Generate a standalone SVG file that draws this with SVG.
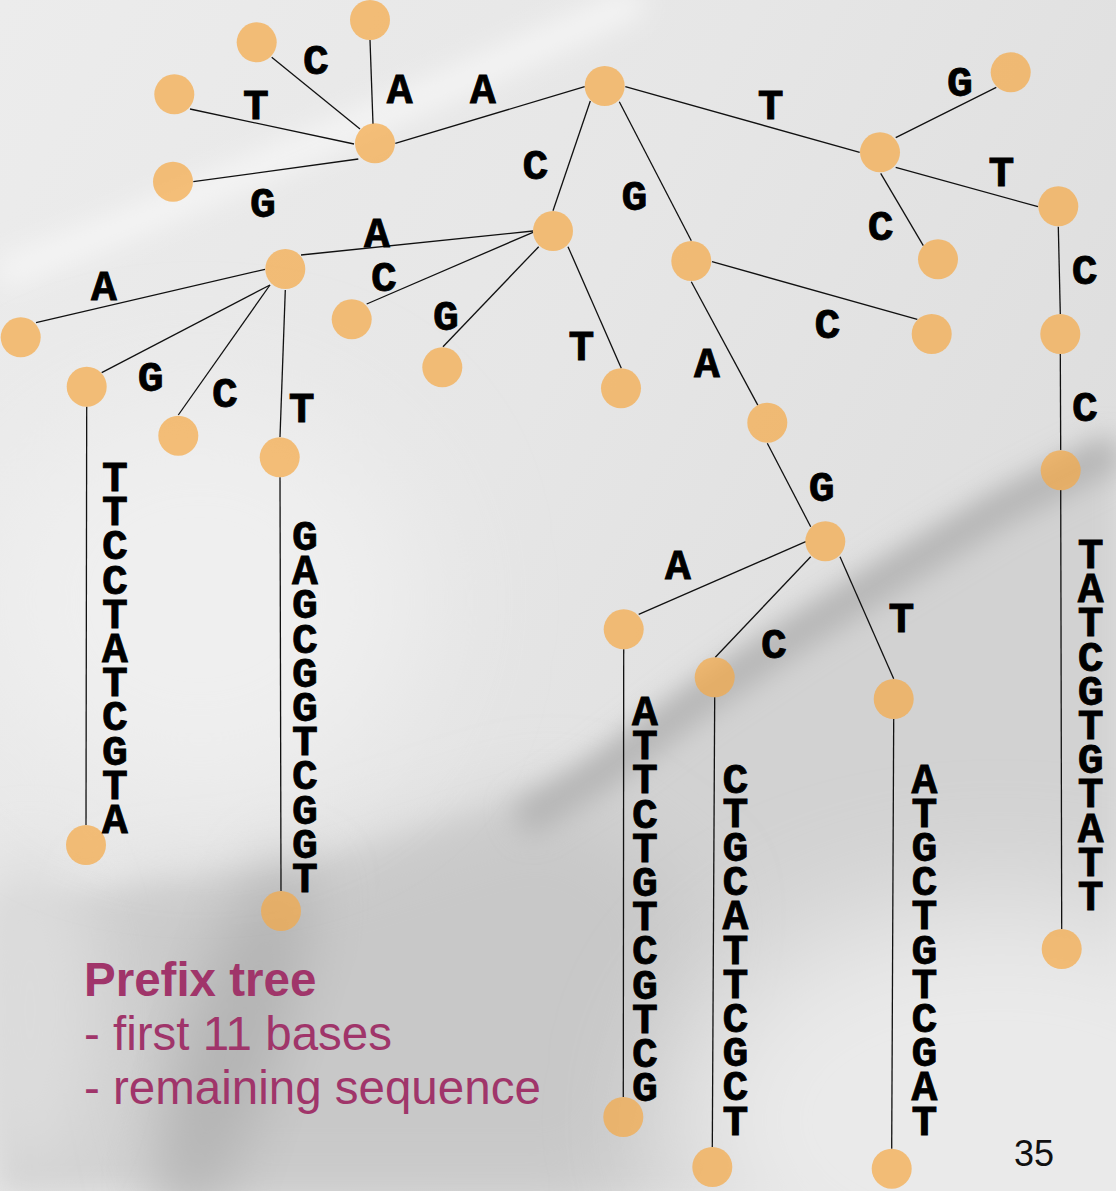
<svg xmlns="http://www.w3.org/2000/svg" width="1116" height="1191" viewBox="0 0 1116 1191">
  <defs>
    <linearGradient id="bgBase" x1="0" y1="0" x2="1" y2="0.6">
      <stop offset="0" stop-color="#ECECEC"/>
      <stop offset="0.5" stop-color="#E6E6E6"/>
      <stop offset="1" stop-color="#DCDCDC"/>
    </linearGradient>
    <filter id="blur60" x="-50%" y="-50%" width="200%" height="200%"><feGaussianBlur stdDeviation="60"/></filter>
    <filter id="blur40" x="-50%" y="-50%" width="200%" height="200%"><feGaussianBlur stdDeviation="40"/></filter>
    <filter id="blur30" x="-50%" y="-50%" width="200%" height="200%"><feGaussianBlur stdDeviation="30"/></filter>
    <filter id="blur14" x="-50%" y="-50%" width="200%" height="200%"><feGaussianBlur stdDeviation="14"/></filter>
    <style>
      .edge { stroke: #111111; stroke-width: 1.3; fill: none; }
      .node { fill: #F5A845; fill-opacity: 0.7; }
      .lbl { font-family: "Liberation Mono", "Courier New", monospace; font-weight: bold; font-size: 43px; fill: #000000; stroke: #000000; stroke-width: 0.8; text-anchor: middle; }
      .seq { font-family: "Liberation Mono", "Courier New", monospace; font-weight: bold; font-size: 43px; fill: #000000; stroke: #000000; stroke-width: 0.8; writing-mode: vertical-rl; text-orientation: upright; letter-spacing: -14.8px; }
      .cap { font-family: "Liberation Sans", Arial, sans-serif; font-size: 47.5px; fill: #A0356A; }
      .pg { font-family: "Liberation Sans", Arial, sans-serif; font-size: 36px; fill: #111111; }
    </style>
  </defs>

  <!-- slide background: soft grey with a diagonal fold -->
  <g id="background">
    <rect width="1116" height="1191" fill="url(#bgBase)"/>
    <polygon points="1116,440 900,560 700,690 560,790 300,870 0,900 0,1191 1116,1191" fill="#D2D2D2" filter="url(#blur14)"/>
    <polygon points="560,800 300,880 120,900 180,1191 620,1191 700,900" fill="#C8C8C8" filter="url(#blur40)"/>
    <ellipse cx="1000" cy="1120" rx="320" ry="220" fill="#EAEAEA" filter="url(#blur60)"/>
    <polyline points="1116,450 1000,508 900,569 800,631 700,698 600,773 520,822" stroke="#B4B4B4" stroke-width="34" fill="none" filter="url(#blur14)"/>
    <ellipse cx="235" cy="1040" rx="45" ry="190" fill="#B3B3B3" filter="url(#blur30)" transform="rotate(18 235 1040)"/>
    <ellipse cx="30" cy="1010" rx="60" ry="160" fill="#DCDCDC" filter="url(#blur30)"/>
    <polyline points="0,275 150,215 300,150 450,85 640,0" stroke="#F6F6F6" stroke-width="26" fill="none" filter="url(#blur14)"/>
    <ellipse cx="200" cy="600" rx="220" ry="200" fill="#EFEFEF" filter="url(#blur60)"/>
  </g>

  <!-- tree edges -->
  <g id="connectors">
    <line class="edge" x1="370" y1="40" x2="373" y2="124"/>
    <line class="edge" x1="271.7" y1="57.3" x2="360" y2="129"/>
    <line class="edge" x1="190" y1="109" x2="354" y2="144"/>
    <line class="edge" x1="193.3" y1="181.7" x2="358.3" y2="159"/>
    <line class="edge" x1="395.3" y1="143.3" x2="584.7" y2="86.7"/>
    <line class="edge" x1="625.3" y1="86.7" x2="859.7" y2="152.3"/>
    <line class="edge" x1="590.3" y1="101" x2="553" y2="210.7"/>
    <line class="edge" x1="619.3" y1="101.7" x2="691.3" y2="240.7"/>
    <line class="edge" x1="895.7" y1="137.7" x2="996.3" y2="87.3"/>
    <line class="edge" x1="895.7" y1="167.3" x2="1038" y2="206.7"/>
    <line class="edge" x1="880.7" y1="173.3" x2="923.3" y2="245.7"/>
    <line class="edge" x1="1058.3" y1="226.7" x2="1060.3" y2="314"/>
    <line class="edge" x1="1060.3" y1="354" x2="1060.7" y2="450"/>
    <line class="edge" x1="1060.7" y1="490" x2="1061.7" y2="929"/>
    <line class="edge" x1="301" y1="255" x2="533" y2="231"/>
    <line class="edge" x1="533" y1="232.3" x2="366.7" y2="304"/>
    <line class="edge" x1="538.7" y1="246.7" x2="443" y2="346.7"/>
    <line class="edge" x1="568" y1="246.7" x2="621.3" y2="368.3"/>
    <line class="edge" x1="265" y1="269.3" x2="36" y2="322.7"/>
    <line class="edge" x1="270" y1="285" x2="101.7" y2="372.7"/>
    <line class="edge" x1="270" y1="285" x2="178.3" y2="415"/>
    <line class="edge" x1="285.3" y1="290" x2="280" y2="437"/>
    <line class="edge" x1="86.7" y1="406.7" x2="86" y2="825"/>
    <line class="edge" x1="280" y1="477.3" x2="281" y2="891"/>
    <line class="edge" x1="712" y1="261.7" x2="917.3" y2="319.3"/>
    <line class="edge" x1="691.3" y1="281.7" x2="757.8" y2="405.1"/>
    <line class="edge" x1="767.3" y1="443.3" x2="810.7" y2="526.7"/>
    <line class="edge" x1="805.7" y1="541.7" x2="638.7" y2="614.3"/>
    <line class="edge" x1="810.7" y1="556.7" x2="715.3" y2="657.3"/>
    <line class="edge" x1="840" y1="556.7" x2="893.7" y2="678.7"/>
    <line class="edge" x1="623.7" y1="649.3" x2="623.3" y2="1097"/>
    <line class="edge" x1="714.7" y1="697.3" x2="712.3" y2="1147"/>
    <line class="edge" x1="893.7" y1="719" x2="891.7" y2="1148.7"/>
  </g>

  <!-- nodes -->
  <g id="n-root"><circle class="node" cx="604.7" cy="86" r="20"/></g>
  <g id="n-a"><circle class="node" cx="375" cy="143.3" r="20"/></g>
  <g id="n-aa"><circle class="node" cx="370" cy="20" r="20"/></g>
  <g id="n-ac"><circle class="node" cx="256.7" cy="42.3" r="20"/></g>
  <g id="n-at"><circle class="node" cx="174.3" cy="94.3" r="20"/></g>
  <g id="n-ag"><circle class="node" cx="173" cy="181.7" r="20"/></g>
  <g id="n-t"><circle class="node" cx="880" cy="152.3" r="20"/></g>
  <g id="n-tg"><circle class="node" cx="1010.7" cy="72.3" r="20"/></g>
  <g id="n-tc"><circle class="node" cx="938" cy="259.3" r="20"/></g>
  <g id="n-tt"><circle class="node" cx="1058.3" cy="206.3" r="20"/></g>
  <g id="n-ttc"><circle class="node" cx="1060.3" cy="334" r="20"/></g>
  <g id="n-ttcc"><circle class="node" cx="1060.7" cy="470.3" r="20"/></g>
  <g id="n-ttcc-end"><circle class="node" cx="1061.7" cy="949" r="20"/></g>
  <g id="n-c"><circle class="node" cx="553" cy="231" r="20"/></g>
  <g id="n-ca"><circle class="node" cx="285.3" cy="269" r="20"/></g>
  <g id="n-cc"><circle class="node" cx="351.7" cy="319.3" r="20"/></g>
  <g id="n-cg"><circle class="node" cx="442.3" cy="367.3" r="20"/></g>
  <g id="n-ct"><circle class="node" cx="621" cy="388.3" r="20"/></g>
  <g id="n-caa"><circle class="node" cx="20.7" cy="337.3" r="20"/></g>
  <g id="n-cag"><circle class="node" cx="86.7" cy="386.7" r="20"/></g>
  <g id="n-cac"><circle class="node" cx="178.3" cy="435.7" r="20"/></g>
  <g id="n-cat"><circle class="node" cx="279.7" cy="457.3" r="20"/></g>
  <g id="n-cag-end"><circle class="node" cx="86" cy="845" r="20"/></g>
  <g id="n-cat-end"><circle class="node" cx="281" cy="911" r="20"/></g>
  <g id="n-g"><circle class="node" cx="691.3" cy="261" r="20"/></g>
  <g id="n-gc"><circle class="node" cx="931.7" cy="334" r="20"/></g>
  <g id="n-ga"><circle class="node" cx="767.3" cy="422.7" r="20"/></g>
  <g id="n-gag"><circle class="node" cx="825.3" cy="541.3" r="20"/></g>
  <g id="n-gaga"><circle class="node" cx="623.7" cy="629.3" r="20"/></g>
  <g id="n-gagc"><circle class="node" cx="714.7" cy="677.3" r="20"/></g>
  <g id="n-gagt"><circle class="node" cx="893.7" cy="699" r="20"/></g>
  <g id="n-gaga-end"><circle class="node" cx="623.3" cy="1117" r="20"/></g>
  <g id="n-gagc-end"><circle class="node" cx="712.3" cy="1167" r="20"/></g>
  <g id="n-gagt-end"><circle class="node" cx="891.7" cy="1168.7" r="20"/></g>

  <!-- edge labels -->
  <g id="edge-labels">
    <text class="lbl" x="316" y="73.6">C</text>
    <text class="lbl" x="256" y="118.6">T</text>
    <text class="lbl" x="399.7" y="102.9">A</text>
    <text class="lbl" x="483" y="102.9">A</text>
    <text class="lbl" x="263" y="216.6">G</text>
    <text class="lbl" x="770.7" y="118.6">T</text>
    <text class="lbl" x="960" y="96.3">G</text>
    <text class="lbl" x="1001.3" y="186.3">T</text>
    <text class="lbl" x="880.7" y="239.6">C</text>
    <text class="lbl" x="1084.7" y="284.3">C</text>
    <text class="lbl" x="1085" y="420.6">C</text>
    <text class="lbl" x="535.3" y="178.6">C</text>
    <text class="lbl" x="634.3" y="209.6">G</text>
    <text class="lbl" x="377" y="246.6">A</text>
    <text class="lbl" x="384" y="290.6">C</text>
    <text class="lbl" x="446" y="329.6">G</text>
    <text class="lbl" x="581.3" y="360.3">T</text>
    <text class="lbl" x="827.3" y="337.6">C</text>
    <text class="lbl" x="707" y="376.6">A</text>
    <text class="lbl" x="104" y="299.6">A</text>
    <text class="lbl" x="150.7" y="390.6">G</text>
    <text class="lbl" x="225" y="406.6">C</text>
    <text class="lbl" x="301.7" y="421.6">T</text>
    <text class="lbl" x="821.7" y="500.9">G</text>
    <text class="lbl" x="678" y="579.3">A</text>
    <text class="lbl" x="774" y="657.9">C</text>
    <text class="lbl" x="901.3" y="631.9">T</text>
  </g>

  <!-- remaining sequences, set as upright vertical text -->
  <g id="suffixes">
    <text class="seq" x="115" y="455">TTCCTATCGTA</text>
    <text class="seq" x="305" y="514">GAGCGGTCGGT</text>
    <text class="seq" x="645" y="689">ATTCTGTCGTCG</text>
    <text class="seq" x="735.3" y="756.5">CTGCATTCGCT</text>
    <text class="seq" x="924.5" y="756.5">ATGCTGTCGAT</text>
    <text class="seq" x="1090.7" y="532">TATCGTGTATT</text>
  </g>

  <!-- caption and page number -->
  <g id="caption">
    <text class="cap" x="84" y="996" font-weight="bold">Prefix tree</text>
    <text class="cap" x="84" y="1050">- first 11 bases</text>
    <text class="cap" x="84" y="1104">- remaining sequence</text>
  </g>
  <text class="pg" x="1014" y="1166">35</text>
</svg>
